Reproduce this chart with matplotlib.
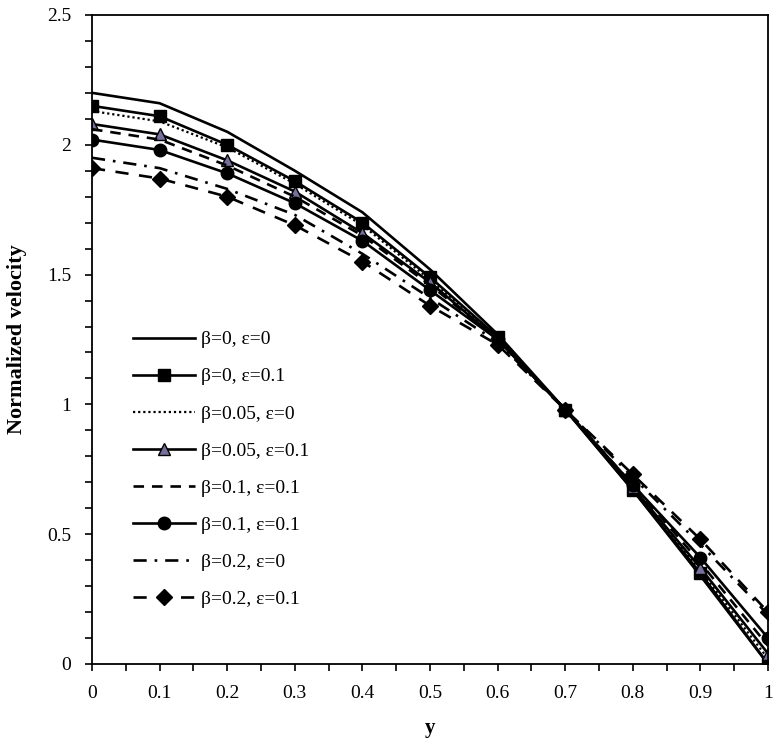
import matplotlib
matplotlib.use("Agg")
import matplotlib.pyplot as plt
from matplotlib.ticker import MultipleLocator

plt.rcParams['font.family'] = ['Liberation Serif', 'DejaVu Serif']

# data
y_pos = [0, 0.1, 0.2, 0.3, 0.4, 0.5, 0.6, 0.7, 0.8, 0.9, 1.0]

b0_e0 = [2.20, 2.16, 2.05, 1.90, 1.74, 1.52, 1.27, 0.98, 0.67, 0.34, 0.00]
b0_e01 = [2.15, 2.11, 2.00, 1.86, 1.70, 1.49, 1.26, 0.98, 0.67, 0.35, 0.00]
b005_e0 = [2.13, 2.09, 1.99, 1.85, 1.69, 1.48, 1.26, 0.98, 0.68, 0.36, 0.02]
b005_e01 = [2.08, 2.04, 1.94, 1.82, 1.66, 1.47, 1.25, 0.98, 0.68, 0.37, 0.04]
b01_e0 = [2.06, 2.02, 1.92, 1.80, 1.65, 1.46, 1.25, 0.98, 0.69, 0.39, 0.07]
b01_e01 = [2.02, 1.98, 1.89, 1.775, 1.63, 1.44, 1.25, 0.98, 0.69, 0.41, 0.10]
b02_e0 = [1.95, 1.91, 1.83, 1.73, 1.58, 1.41, 1.24, 0.98, 0.72, 0.46, 0.19]
b02_e01 = [1.91, 1.87, 1.80, 1.69, 1.55, 1.38, 1.23, 0.98, 0.73, 0.48, 0.20]

labels = ['β=0, ε=0', 'β=0, ε=0.1', 'β=0.05, ε=0', 'β=0.05, ε=0.1',
          'β=0.1, ε=0.1', 'β=0.1, ε=0.1', 'β=0.2, ε=0', 'β=0.2, ε=0.1']
x_ticklabels = ['0', '0.1', '0.2', '0.3', '0.4', '0.5', '0.6', '0.7', '0.8', '0.9', '1']
y_ticks = [0, 0.5, 1.0, 1.5, 2.0, 2.5]
y_ticklabels = ['0', '0.5', '1', '1.5', '2', '2.5']


def main():
    fig = plt.figure(figsize=(7.75, 7.56), dpi=100)
    ax = fig.add_axes([0.1187, 0.1217, 0.8723, 0.8585])

    lw = 1.9
    ax.plot(y_pos, b0_e0, color='black', lw=lw, label=labels[0])
    ax.plot(y_pos, b0_e01, color='black', lw=lw, marker='s', ms=9, label=labels[1])
    ax.plot(y_pos, b005_e0, color='black', lw=1.6, ls=(0, (1, 1.3)), label=labels[2])
    ax.plot(y_pos, b005_e01, color='black', lw=lw, marker='^', ms=9,
            mfc='#776f9c', mec='black', mew=1.0, label=labels[3])
    ax.plot(y_pos, b01_e0, color='black', lw=lw, ls=(0, (4, 3)), label=labels[4])
    ax.plot(y_pos, b01_e01, color='black', lw=lw, marker='o', ms=9, label=labels[5])
    ax.plot(y_pos, b02_e0, color='black', lw=lw, ls=(0, (5, 3, 1, 3)), label=labels[6])
    ax.plot(y_pos, b02_e01, color='black', lw=lw, ls=(0, (5, 4)), marker='D', ms=8,
            label=labels[7])

    ax.set_xlim(0, 1)
    ax.set_ylim(0, 2.5)
    ax.set_xticks(y_pos)
    ax.set_xticklabels(x_ticklabels)
    ax.set_yticks(y_ticks)
    ax.set_yticklabels(y_ticklabels)
    ax.xaxis.set_minor_locator(MultipleLocator(0.05))
    ax.yaxis.set_minor_locator(MultipleLocator(0.1))

    ax.tick_params(which='both', direction='out', length=5, width=1.2,
                   labelsize=14, colors='black')
    ax.tick_params(axis='x', pad=10)
    ax.tick_params(axis='y', pad=10)
    for sp in ax.spines.values():
        sp.set_linewidth(1.3)

    ax.set_xlabel('y', fontsize=15, fontweight='bold', labelpad=12)
    ax.set_ylabel('Normalized velocity', fontsize=16, fontweight='bold', labelpad=14)

    ax.legend(loc='center left', bbox_to_anchor=(0.061, 0.30), frameon=False,
              fontsize=14, handlelength=3.2, handletextpad=0.3, labelspacing=1.0,
              borderpad=0, borderaxespad=0)

    fig.savefig('out.png', dpi=100)


if __name__ == "__main__":
    main()
